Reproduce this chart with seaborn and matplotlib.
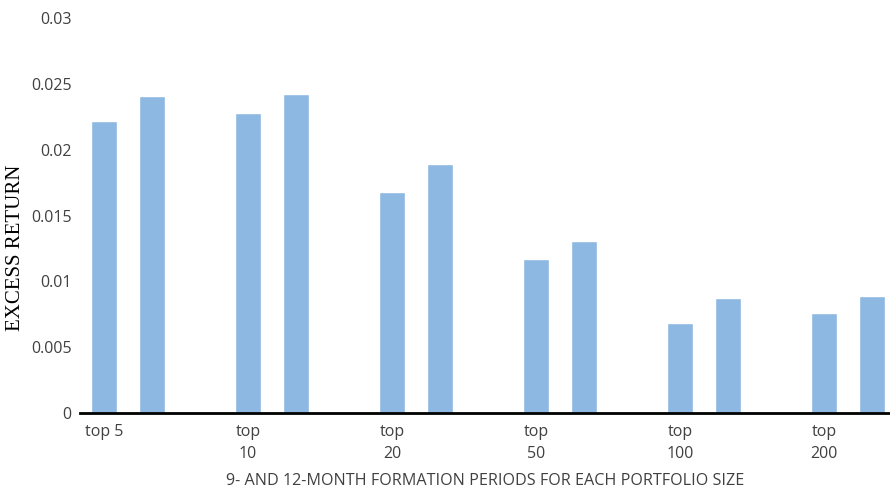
import pandas as pd
import seaborn as sns
import matplotlib.pyplot as plt

# data
portfolios = ["top 5", "top 10", "top 20", "top 50", "top 100", "top 200"]
tick_labels = ["top 5", "top\n10", "top\n20", "top\n50", "top\n100", "top\n200"]
ret_9m = [0.0222, 0.0228, 0.0168, 0.0117, 0.0068, 0.0076]
ret_12m = [0.0241, 0.0242, 0.0189, 0.0131, 0.0087, 0.0089]

rows = []
for i, p in enumerate(portfolios):
    rows.append({"pos": 3 * i, "ret": ret_9m[i], "period": "9m"})
    rows.append({"pos": 3 * i + 1, "ret": ret_12m[i], "period": "12m"})
df = pd.DataFrame(rows)

sns.set_style("white")
plt.rcParams['font.family'] = ['Open Sans', 'DejaVu Sans']

fig = plt.figure(figsize=(8.9, 4.91), dpi=100)
ax = fig.add_axes([80 / 890, 1 - 413 / 491, 1 - 80 / 890, 395 / 491])

sns.barplot(data=df, x="pos", y="ret", native_scale=True, color="#8DB8E2",
            width=0.54, saturation=1, errorbar=None, ax=ax)

ax.set_xlim(-0.5, 16.375)
ax.set_ylim(0, 0.03)
ax.set_yticks([0, 0.005, 0.01, 0.015, 0.02, 0.025, 0.03])
ax.set_yticklabels(["0", "0.005", "0.01", "0.015", "0.02", "0.025", "0.03"])
ax.set_xticks([3 * i for i in range(len(portfolios))])
ax.set_xticklabels(tick_labels, va="top", linespacing=1.45)
ax.tick_params(axis="both", length=0, labelsize=11.5, colors="#404040")
ax.tick_params(axis="y", pad=6)
ax.tick_params(axis="x", pad=8)

for s in ["top", "right", "left"]:
    ax.spines[s].set_visible(False)
ax.spines["bottom"].set_color("black")
ax.spines["bottom"].set_linewidth(2)

ax.set_xlabel("")
ax.set_ylabel("")
fig.text(485 / 890, 1 - 481 / 491, "9- AND 12-MONTH FORMATION PERIODS FOR EACH PORTFOLIO SIZE",
         ha="center", va="center", fontsize=11.6, color="#404040")
fig.text(16 / 890, 1 - 248 / 491, "EXCESS RETURN", rotation=90, ha="center", va="center",
         fontsize=15, color="#000000", family=["Liberation Serif"])

fig.savefig("out.png", dpi=100)
